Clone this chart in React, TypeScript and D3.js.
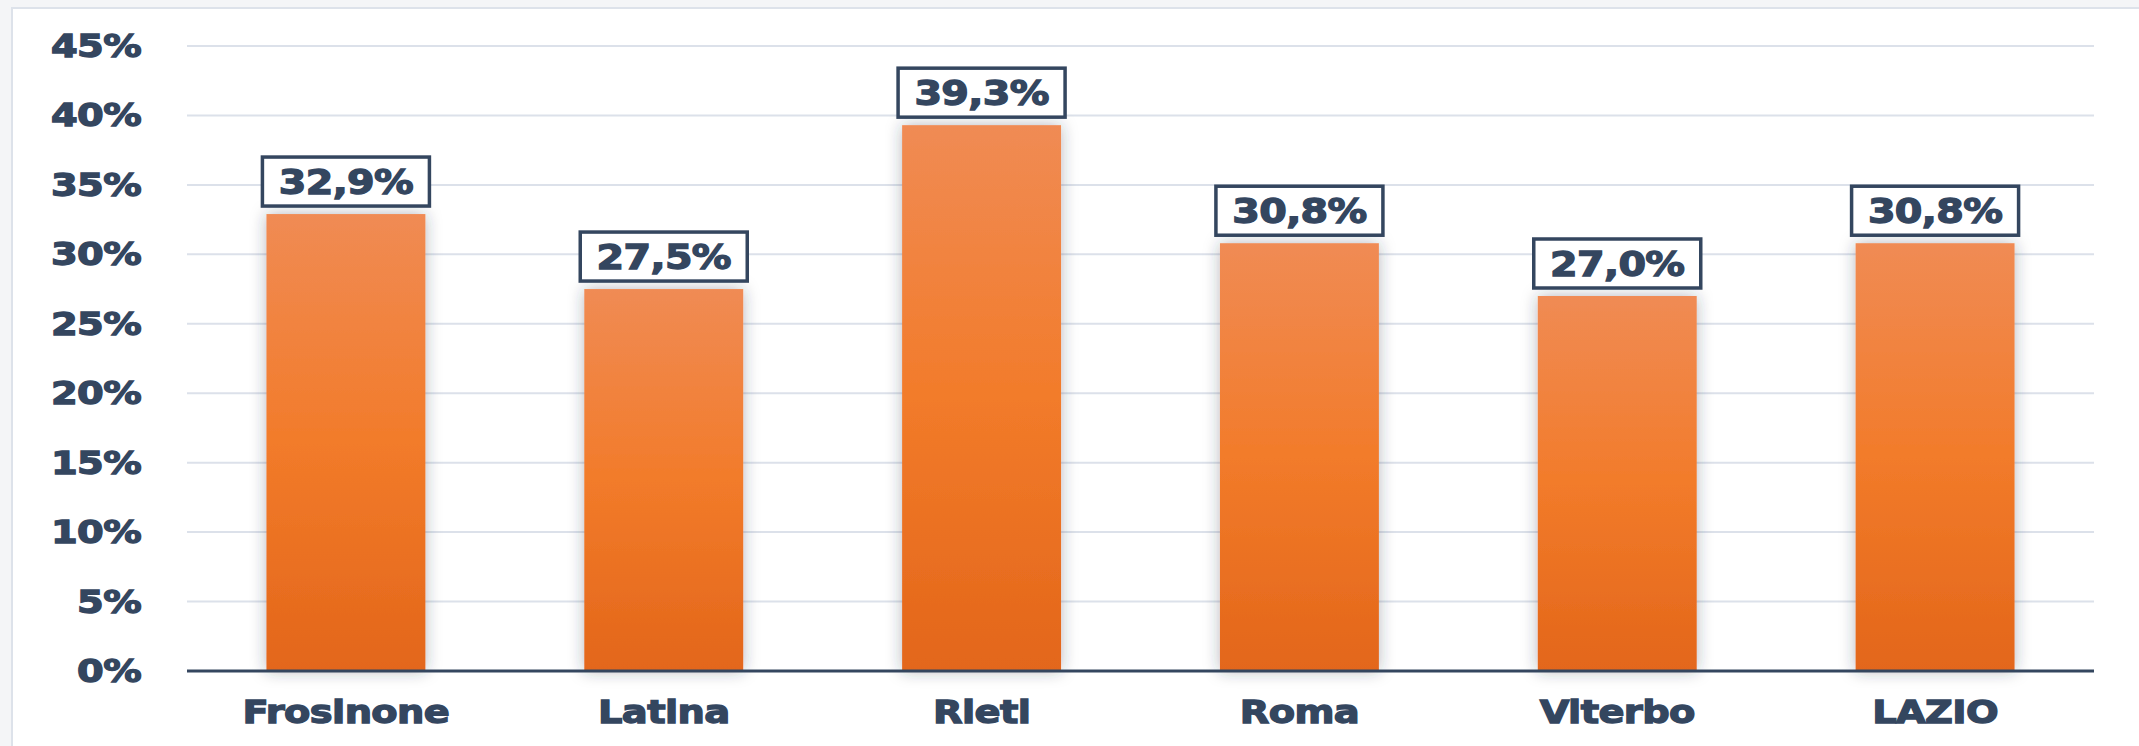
import * as d3 from 'd3'

const width = 2139
const height = 746

const margin = { top: 46, right: 45, bottom: 75, left: 187 }
const innerWidth = width - margin.left - margin.right
const innerHeight = height - margin.top - margin.bottom

const province = ['Frosinone', 'Latina', 'Rieti', 'Roma', 'Viterbo', 'LAZIO']
const quota = [32.9, 27.5, 39.3, 30.8, 27.0, 30.8]
const yTicks = [0, 5, 10, 15, 20, 25, 30, 35, 40, 45]

const ink = '#34465f'
const stretch = 1.2

const itFormat = d3.formatLocale({
  decimal: ',',
  thousands: '.',
  grouping: [3],
  currency: ['€', ''],
})
const fmtValue = itFormat.format('.1f')

// text looks heavier than plain bold in the picture, so a thin stroke thickens it
const heavy = {
  fontFamily: 'DejaVu Sans',
  fontWeight: 'bold' as const,
  fill: ink,
  stroke: ink,
  strokeWidth: 1.3,
  letterSpacing: -0.5,
}

const App = () => {
  const xScale = d3
    .scaleBand()
    .domain(province)
    .range([0, innerWidth])
    .paddingInner(0.5)
    .paddingOuter(0.25)

  const yScale = d3.scaleLinear().domain([0, 45]).range([innerHeight, 0])

  const boxW = 167
  const boxH = 49

  return (
    <div style={{ position: 'absolute', left: 0, top: 0 }}>
      <svg width={width} height={height} style={{ display: 'block' }}>
        <defs>
          <linearGradient id="barFill" x1="0" y1="0" x2="0" y2="1">
            <stop offset="0%" stopColor="#f08b54" />
            <stop offset="50%" stopColor="#f27b2a" />
            <stop offset="100%" stopColor="#e3661a" />
          </linearGradient>
          <filter id="barShadow" x="-30%" y="-10%" width="160%" height="115%">
            <feDropShadow dx="0" dy="0" stdDeviation="8" floodColor="#2b3340" floodOpacity="0.35" />
          </filter>
        </defs>

        <rect x={0} y={0} width={width} height={height} fill="#f4f5f7" />
        <rect x={12} y={8} width={width} height={height} fill="#ffffff" stroke="#dde2ea" strokeWidth={2} />

        <g transform={`translate(${margin.left},${margin.top})`}>
          {yTicks.map((t) => (
            <g key={t} transform={`translate(0,${yScale(t)})`}>
              {t > 0 && <line x1={0} x2={innerWidth} stroke="#dce1ea" strokeWidth={2} />}
              <text
                transform={`translate(-46,11) scale(${stretch},1)`}
                textAnchor="end"
                fontSize={32}
                {...heavy}
              >
                {t}%
              </text>
            </g>
          ))}

          {province.map((p, i) => {
            const x = xScale(p) ?? 0
            const y = yScale(quota[i])
            const cx = x + xScale.bandwidth() / 2
            const boxY = y - 8 - boxH
            return (
              <g key={p}>
                <rect
                  x={x}
                  y={y}
                  width={xScale.bandwidth()}
                  height={innerHeight - y}
                  fill="url(#barFill)"
                  filter="url(#barShadow)"
                />
                <rect
                  x={cx - boxW / 2}
                  y={boxY}
                  width={boxW}
                  height={boxH}
                  fill="#ffffff"
                  stroke={ink}
                  strokeWidth={3.5}
                />
                <text
                  transform={`translate(${cx},${boxY + boxH / 2 + 12}) scale(${stretch},1)`}
                  textAnchor="middle"
                  fontSize={33}
                  {...heavy}
                >
                  {fmtValue(quota[i])}%
                </text>
                <text
                  transform={`translate(${cx},${innerHeight + 52}) scale(${stretch},1)`}
                  textAnchor="middle"
                  fontSize={32}
                  {...heavy}
                >
                  {p}
                </text>
              </g>
            )
          })}

          <line x1={0} x2={innerWidth} y1={innerHeight} y2={innerHeight} stroke={ink} strokeWidth={3} />
        </g>
      </svg>
    </div>
  )
}

export default App
